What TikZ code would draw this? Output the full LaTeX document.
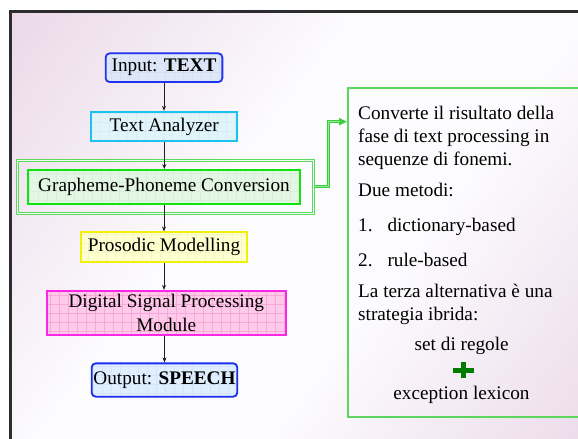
\documentclass[tikz,border=0pt]{standalone}
\usepackage{fontspec}
\setmainfont{Liberation Serif}
\usetikzlibrary{arrows.meta}

\definecolor{bgmauve}{RGB}{231,210,229}
\definecolor{bgpale}{RGB}{252,251,253}
\definecolor{framegray}{RGB}{45,45,48}
\definecolor{inblue}{RGB}{30,50,240}
\definecolor{infill}{RGB}{222,231,247}
\definecolor{ingrid}{RGB}{212,223,243}
\definecolor{tacyan}{RGB}{25,195,238}
\definecolor{tafill}{RGB}{224,244,249}
\definecolor{tagrid}{RGB}{214,237,245}
\definecolor{gpgreen}{RGB}{15,228,15}
\definecolor{gpfill}{RGB}{228,246,228}
\definecolor{gpgrid}{RGB}{216,240,216}
\definecolor{gpouter}{RGB}{90,218,90}
\definecolor{pmyellow}{RGB}{240,240,10}
\definecolor{pmfill}{RGB}{255,255,208}
\definecolor{pmgrid}{RGB}{246,246,196}
\definecolor{dspmag}{RGB}{250,40,230}
\definecolor{dspfill}{RGB}{255,202,233}
\definecolor{dspgrid}{RGB}{246,170,218}
\definecolor{outblue}{RGB}{25,45,235}
\definecolor{outfill}{RGB}{224,239,255}
\definecolor{outgrid}{RGB}{212,229,250}
\definecolor{notegreen}{RGB}{92,214,92}
\definecolor{linkgreen}{RGB}{60,205,60}
\definecolor{linklight}{RGB}{150,235,150}
\definecolor{plusgreen}{RGB}{0,125,0}
\definecolor{ink}{RGB}{30,30,30}

\pgfdeclarehorizontalshading{bgdiag}{100bp}{color(0bp)=(bgmauve); color(10bp)=(bgmauve); color(41bp)=(bgpale); color(59bp)=(bgpale); color(90bp)=(bgmauve); color(100bp)=(bgmauve)}

\tikzset{
  stage/.style={draw, line width=1.8bp, inner sep=0pt, align=center},
  gridded/.style={path picture={\draw[#1, line width=0.5bp, step=9bp]
      (path picture bounding box.south west) grid (path picture bounding box.north east);}},
  flow/.style={draw=ink, line width=0.8bp, -{Stealth[length=5bp,width=4bp]}},
  notetext/.style={anchor=base west, inner sep=0pt},
  notecentre/.style={anchor=base, inner sep=0pt},
}

\begin{document}
\begin{tikzpicture}[x=1bp, y=-1bp, font=\fontsize{19.3}{23.2}\selectfont]
  \useasboundingbox (0,0) rectangle (578,439);
  \clip (0,0) rectangle (578,439);

  % slide background and frame
  \fill[white] (0,0) rectangle (578,439);
  \shade[shading=bgdiag, shading angle=-37] (10.5,11.5) rectangle (600,460);
  \draw[framegray, line width=3bp] (10.5,470) -- (10.5,11.5) -- (610,11.5);

  % pipeline stages
  \node[stage, rounded corners=4bp, draw=inblue, fill=infill, gridded=ingrid,
        minimum width=116.7bp, minimum height=28.7bp] (in) at (164,67.7) {Input: \textbf{TEXT}};
  \node[stage, draw=tacyan, fill=tafill, gridded=tagrid,
        minimum width=146bp, minimum height=29.6bp] (ta) at (164.3,126.5) {Text Analyzer};
  \node[draw=gpouter, line width=0.8bp, double=gpfill!40!white, double distance=1.2bp,
        minimum width=296bp, minimum height=53bp, inner sep=0pt] (gpo) at (165.5,186.7) {};
  \node[stage, draw=gpgreen, fill=gpfill, gridded=gpgrid,
        minimum width=272bp, minimum height=34bp] (gp) at (164,187) {Grapheme-Phoneme Conversion};
  \node[stage, draw=pmyellow, fill=pmfill, gridded=pmgrid,
        minimum width=166bp, minimum height=30bp] (pm) at (164,247.3) {Prosodic Modelling};
  \node[stage, draw=dspmag, fill=dspfill, gridded=dspgrid,
        minimum width=238.7bp, minimum height=44.3bp] (dsp) at (166.3,313)
        {Digital Signal Processing\\[0.3bp]Module};
  \node[stage, rounded corners=4bp, draw=outblue, fill=outfill, gridded=outgrid,
        minimum width=145.6bp, minimum height=33.3bp] (out) at (164.5,380) {Output: \textbf{SPEECH}};

  % arrows between stages
  \draw[flow] (in.south) -- (in.south |- ta.north);
  \draw[flow] (ta.south) -- (ta.south |- gp.north);
  \draw[flow] (gp.south) -- (gp.south |- pm.north);
  \draw[flow] (pm.south) -- (pm.south |- dsp.north);
  \draw[flow] (dsp.south -| out.north) -- (out.north);

  % explanatory note
  \node[draw=notegreen, line width=2bp, minimum width=262bp, minimum height=328.4bp,
        inner sep=0pt] (rb) at (479,252.5) {};

  \node[notetext] (t1) at (358,119.3) {Converte il risultato della};
  \node[notetext] (t2) at (358,142.3) {fase di text processing in};
  \node[notetext] (t3) at (358,165.3) {sequenze di fonemi.};
  \node[notetext] (t4) at (358,196.7) {Due metodi:};
  \node[notetext] (n1) at (358,231.7) {1.};
  \node[notetext] (t5) at (387.3,231.7) {dictionary-based};
  \node[notetext] (n2) at (358,266.7) {2.};
  \node[notetext] (t6) at (387.3,266.7) {rule-based};
  \node[notetext] (t7) at (358,297.3) {La terza alternativa è una};
  \node[notetext] (t8) at (358,320.3) {strategia ibrida:};
  \node[notecentre] (t9) at (461.7,350) {set di regole};
  \node[notecentre] (t10) at (461.5,399.3) {exception lexicon};

  % plus sign between the two strategies
  \draw[plusgreen, line width=5bp] (453,370) -- (474,370);
  \draw[plusgreen, line width=5bp] (463.5,362) -- (463.5,378);

  % link from the conversion stage to the note
  \coordinate (bend) at (328,121.7);
  \draw[linkgreen, line width=3bp, -{Triangle[length=8bp,width=7bp]}]
    (gpo.east) -| (bend) -- (bend -| rb.west);
  \draw[linklight, line width=1bp, shorten >=7bp]
    (gpo.east) -| (bend) -- (bend -| rb.west);
\end{tikzpicture}
\end{document}
